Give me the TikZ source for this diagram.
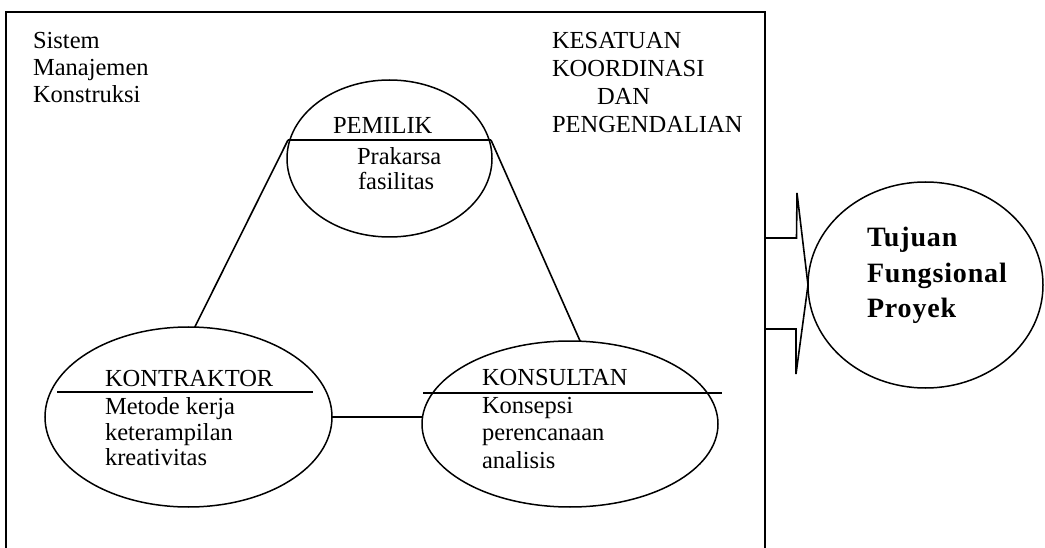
\documentclass[tikz,border=0pt]{standalone}
\usepackage{fontspec}
\setmainfont{Liberation Serif}
\usetikzlibrary{shapes.geometric,calc}
\begin{document}
\begin{tikzpicture}[x=1pt,y=-1pt,
  every node/.style={inner sep=0pt,outer sep=0pt},
  oval/.style={draw,ellipse,line width=1.5pt},
  lbl/.style={font=\fontsize{24.5}{27}\selectfont,anchor=base west},
  goaltext/.style={font=\bfseries\fontsize{28}{33}\selectfont\addfontfeature{LetterSpace=3},anchor=base west},
  link/.style={line width=1.6pt},
  chord/.style={line width=1.5pt},
  framing/.style={line width=1.8pt},
]
\useasboundingbox (0,0) rectangle (1045,548);

% outer frame of the management system (open at the bottom)
\coordinate (fBL) at (6,548);
\coordinate (fTL) at (6,12);
\coordinate (fTR) at (765,12);
\coordinate (fBR) at (765,548);
\draw[framing] (fBL) -- (fTL) -- (fTR) -- (fBR);

% corner captions
\node[lbl] (sis1) at (33,49)  {Sistem};
\node[lbl] (sis2) at (33,76)  {Manajemen};
\node[lbl] (sis3) at (33,103) {Konstruksi};

\node[lbl] (kes1) at (552,49)  {KESATUAN};
\node[lbl] (kes2) at (552,77)  {KOORDINASI};
\node[lbl] (kes3) at (597,105) {DAN};
\node[lbl] (kes4) at (552,133) {PENGENDALIAN};

% the three parties
\node[oval,minimum width=205pt,minimum height=157pt] (pemilik)    at (389.5,158.5) {};
\node[oval,minimum width=287pt,minimum height=180pt] (kontraktor) at (188.5,417) {};
\node[oval,minimum width=296pt,minimum height=166pt] (konsultan)  at (570,424) {};

% PEMILIK
\coordinate (pemL) at (288,140);
\coordinate (pemR) at (491,140);
\draw[chord] (pemL) -- (pemR);
\node[lbl] (pemT) at (333,134) {PEMILIK};
\node[lbl] (pem1) at (357,165) {Prakarsa};
\node[lbl] (pem2) at (358,190) {fasilitas};

% KONTRAKTOR
\coordinate (konL) at (57,392);
\coordinate (konR) at (313,392);
\draw[chord] (konL) -- (konR);
\node[lbl] (konT) at (105,386) {KONTRAKTOR};
\node[lbl] (kon1) at (105,414) {Metode kerja};
\node[lbl] (kon2) at (105,440) {keterampilan};
\node[lbl] (kon3) at (105,465) {kreativitas};

% KONSULTAN
\coordinate (ksL) at (423,393);
\coordinate (ksR) at (722,393);
\draw[chord] (ksL) -- (ksR);
\node[lbl] (ksT) at (482,385) {KONSULTAN};
\node[lbl] (ks1) at (482,413) {Konsepsi};
\node[lbl] (ks2) at (482,440) {perencanaan};
\node[lbl] (ks3) at (482,468) {analisis};

% links between the parties
\draw[link] (pemL) -- (kontraktor.86);
\draw[link] (pemR) -- (konsultan.83);
\draw[link] (kontraktor.east) -- (kontraktor.east -| konsultan.west);

% project goal
\node[oval,minimum width=235pt,minimum height=206pt] (goal) at (925.5,285) {};
\node[goaltext] (g1) at (867,247) {Tujuan};
\node[goaltext] (g2) at (867,283) {Fungsional};
\node[goaltext] (g3) at (867,318) {Proyek};

% block arrow from the frame to the goal
\coordinate (tip) at (goal.west);
\coordinate (sU) at ($(tip)+(0,-47)$);
\coordinate (sD) at ($(tip)+(0,44)$);
\draw[link,line join=miter]
  (sU -| fTR) -- ($(sU)+(-11.5,0)$) -- ($(tip)+(-11,-92)$) -- (tip)
  -- ($(tip)+(-12,89)$) -- ($(sD)+(-12,0)$) -- (sD -| fTR);
\end{tikzpicture}
\end{document}
